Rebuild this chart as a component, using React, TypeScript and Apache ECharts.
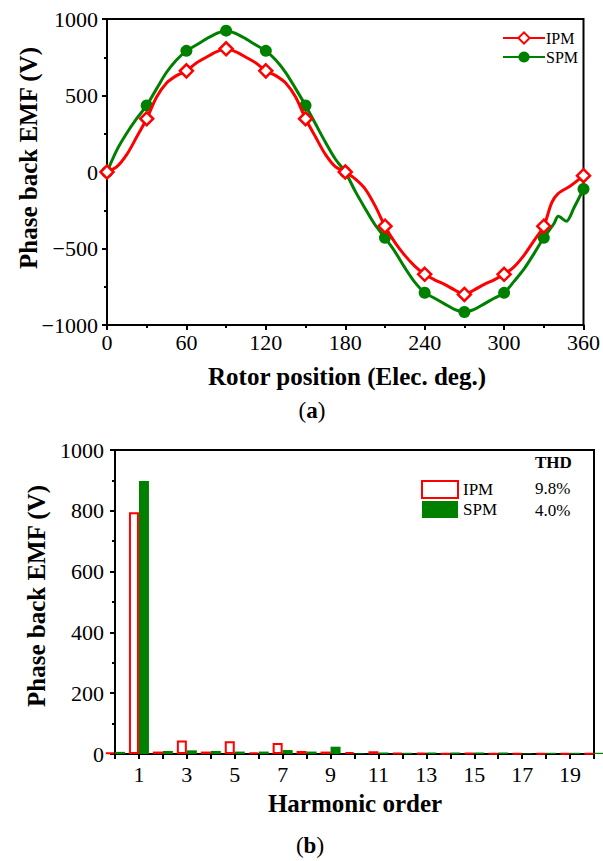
import React, { useEffect, useRef } from 'react';
import * as echarts from 'echarts';

// ---- (a) Phase back EMF waveform ----
const ipmAngles = [0, 7.5, 15, 22.5, 30, 37.5, 45, 52.5, 60, 67.5, 75, 82.5, 90, 97.5, 105, 112.5, 120, 127.5, 135, 142.5, 150, 157.5, 165, 172.5, 180, 187.5, 195, 202.5, 210, 217.5, 225, 232.5, 240, 247.5, 255, 262.5, 270, 277.5, 285, 292.5, 300, 307.5, 315, 322.5, 330, 336, 341, 350, 360];
const ipmEmf = [0, 35, 115, 230, 348, 490, 582, 630, 661, 712, 750, 785, 805, 785, 750, 712, 661, 630, 582, 490, 348, 230, 115, 35, 0, -45, -110, -220, -354, -460, -545, -615, -669, -705, -735, -770, -800, -770, -735, -705, -669, -620, -545, -450, -354, -200, -140, -92, -24];

const spmAngles = [0, 7.5, 15, 22.5, 30, 37.5, 45, 52.5, 60, 67.5, 75, 82.5, 90, 97.5, 105, 112.5, 120, 127.5, 135, 142.5, 150, 157.5, 165, 172.5, 180, 187.5, 195, 202.5, 210, 217.5, 225, 232.5, 240, 247.5, 255, 262.5, 270, 277.5, 285, 292.5, 300, 307.5, 315, 322.5, 330, 337.5, 341, 347, 353, 360];
const spmEmf = [0, 145, 255, 350, 435, 545, 652, 732, 792, 830, 870, 905, 924, 905, 870, 830, 792, 732, 650, 545, 435, 315, 195, 85, 0, -125, -238, -345, -430, -520, -625, -720, -789, -825, -862, -898, -915, -898, -862, -825, -790, -715, -635, -535, -430, -340, -290, -322, -230, -111];

const xTicksA = [0, 60, 120, 180, 240, 300, 360];
const yTicksA = [-1000, -500, 0, 500, 1000];

// ---- (b) Harmonic spectrum ----
const harmonics = [0, 1, 2, 3, 4, 5, 6, 7, 8, 9, 10, 11, 12, 13, 14, 15, 16, 17, 18, 19, 20];
const ipmHarm = [5, 795, 8, 44, 8, 42, 5, 36, 10, 8, 6, 9, 3, 4, 2, 3, 2, 2, 2, 2, 2];
const spmHarm = [7, 898, 10, 12, 10, 8, 8, 13, 8, 24, 2, 5, 4, 5, 5, 5, 5, 2, 4, 4, 4];
const seriesNames = ['IPM', 'SPM'];
const thdValues = ['9.8%', '4.0%'];

const SERIF = '"Liberation Serif", "Times New Roman", serif';
const RED = '#ff0000';
const GREEN = '#008000';

export default function App() {
  const ref = useRef<HTMLDivElement>(null);

  useEffect(() => {
    document.body.style.margin = '0';
    if (!ref.current) return;
    const chart = echarts.init(ref.current, undefined, { renderer: 'svg' });

    const markerData = (angles: number[], vals: number[]) =>
      angles.map((a, i) => (a % 30 === 0 ? [a, vals[i]] : { value: [a, vals[i]], symbol: 'none' }));

    const axisCommon = {
      axisLine: { show: true, onZero: false, lineStyle: { color: '#000', width: 2 } },
      axisTick: { show: true, length: 5, lineStyle: { color: '#000', width: 2 } },
      minorTick: { show: true, splitNumber: 2, length: 3, lineStyle: { color: '#000', width: 2 } },
      splitLine: { show: false },
      axisLabel: { color: '#000', fontFamily: SERIF, fontSize: 22 },
    };

    const titleStyle = (text: string, size: number) => ({
      text,
      fontFamily: SERIF,
      fontWeight: 'bold',
      fontSize: size,
      fill: '#000',
      align: 'center',
      verticalAlign: 'middle',
    });

    const plainText = (text: string, bold: boolean) => ({
      text,
      fontFamily: SERIF,
      fontWeight: bold ? 'bold' : 'normal',
      fontSize: 17,
      fill: '#000',
      align: 'left',
      verticalAlign: 'middle',
    });

    const caption = (letter: string) => ({
      text: '({b|' + letter + '})',
      fontFamily: SERIF,
      fontSize: 23,
      fill: '#000',
      align: 'center',
      verticalAlign: 'middle',
      rich: { b: { fontFamily: SERIF, fontSize: 23, fontWeight: 'bold', fill: '#000' } },
    });

    const option: any = {
      animation: false,
      grid: [
        { left: 107, top: 19, width: 480, height: 306, show: true, borderColor: '#000', borderWidth: 2, containLabel: false },
        { left: 115, top: 450, width: 479, height: 304, show: true, borderColor: '#000', borderWidth: 2, containLabel: false },
      ],
      xAxis: [
        {
          ...axisCommon,
          gridIndex: 0,
          type: 'value',
          min: xTicksA[0],
          max: xTicksA[xTicksA.length - 1],
          interval: 60,
          axisLabel: { ...axisCommon.axisLabel, margin: 6 },
        },
        {
          ...axisCommon,
          gridIndex: 1,
          type: 'value',
          min: 0,
          max: 20,
          interval: 1,
          minorTick: { show: false },
          axisLabel: {
            ...axisCommon.axisLabel,
            margin: 9,
            formatter: (v: number) => (v % 2 === 1 ? String(v) : ''),
          },
        },
      ],
      yAxis: [
        {
          ...axisCommon,
          gridIndex: 0,
          type: 'value',
          min: yTicksA[0],
          max: yTicksA[yTicksA.length - 1],
          interval: 500,
          axisLabel: { ...axisCommon.axisLabel, margin: 9, formatter: (v: number) => (v < 0 ? '\u2212' + Math.abs(v) : String(v)) },
        },
        {
          ...axisCommon,
          gridIndex: 1,
          type: 'value',
          min: 0,
          max: 1000,
          interval: 200,
          axisLabel: { ...axisCommon.axisLabel, margin: 11, formatter: (v: number) => String(v) },
        },
      ],
      legend: [
        {
          data: seriesNames.map((n) => ({ name: n })),
          orient: 'vertical',
          left: 497,
          top: 25,
          itemWidth: 42,
          itemHeight: 14,
          itemGap: 3,
          textStyle: { fontFamily: SERIF, fontSize: 16, color: '#000', padding: [0, 0, 0, -4] },
          selectedMode: false,
        },
        {
          data: seriesNames.map((n) => ({ name: n + ' ' })),
          orient: 'vertical',
          left: 416,
          top: 475,
          itemWidth: 36,
          itemHeight: 17,
          itemGap: 2,
          icon: 'rect',
          formatter: (name: string) => name.trim(),
          textStyle: { fontFamily: SERIF, fontSize: 17, color: '#000' },
          selectedMode: false,
        },
      ],
      graphic: [
        { type: 'text', x: 28, y: 158, rotation: Math.PI / 2, style: titleStyle('Phase back EMF (V)', 25) },
        { type: 'text', x: 347, y: 376, style: titleStyle('Rotor position (Elec. deg.)', 25) },
        { type: 'text', x: 312, y: 410, style: caption('a') },
        { type: 'text', x: 36, y: 596, rotation: Math.PI / 2, style: titleStyle('Phase back EMF (V)', 25) },
        { type: 'text', x: 355, y: 803, style: titleStyle('Harmonic order', 25) },
        { type: 'text', x: 310, y: 845, style: caption('b') },
        { type: 'text', x: 535, y: 462, style: plainText('THD', true) },
        { type: 'text', x: 535, y: 488, style: plainText(thdValues[0], false) },
        { type: 'text', x: 535, y: 510, style: plainText(thdValues[1], false) },
      ],
      series: [
        {
          name: seriesNames[0],
          type: 'line',
          xAxisIndex: 0,
          yAxisIndex: 0,
          data: markerData(ipmAngles, ipmEmf),
          smooth: 0.3,
          symbol: 'diamond',
          symbolSize: 13,
          showAllSymbol: true,
          lineStyle: { color: RED, width: 3 },
          itemStyle: { color: '#fff', borderColor: RED, borderWidth: 2.5 },
          z: 3,
        },
        {
          name: seriesNames[1],
          type: 'line',
          xAxisIndex: 0,
          yAxisIndex: 0,
          data: markerData(spmAngles, spmEmf),
          smooth: 0.3,
          symbol: 'circle',
          symbolSize: 12,
          showAllSymbol: true,
          lineStyle: { color: GREEN, width: 3 },
          itemStyle: { color: GREEN, borderColor: GREEN, borderWidth: 0 },
          z: 2,
        },
        {
          name: seriesNames[0] + ' ',
          type: 'bar',
          xAxisIndex: 1,
          yAxisIndex: 1,
          data: harmonics.map((h, i) => [h, ipmHarm[i]]),
          barWidth: 10,
          barGap: '0%',
          clip: true,
          itemStyle: { color: '#fff', borderColor: RED, borderWidth: 2 },
        },
        {
          name: seriesNames[1] + ' ',
          type: 'bar',
          xAxisIndex: 1,
          yAxisIndex: 1,
          data: harmonics.map((h, i) => [h, spmHarm[i]]),
          barWidth: 10,
          barGap: '0%',
          clip: true,
          itemStyle: { color: GREEN },
        },
      ],
    };

    chart.setOption(option);
    return () => chart.dispose();
  }, []);

  return <div ref={ref} style={{ width: 603, height: 861 }} />;
}
